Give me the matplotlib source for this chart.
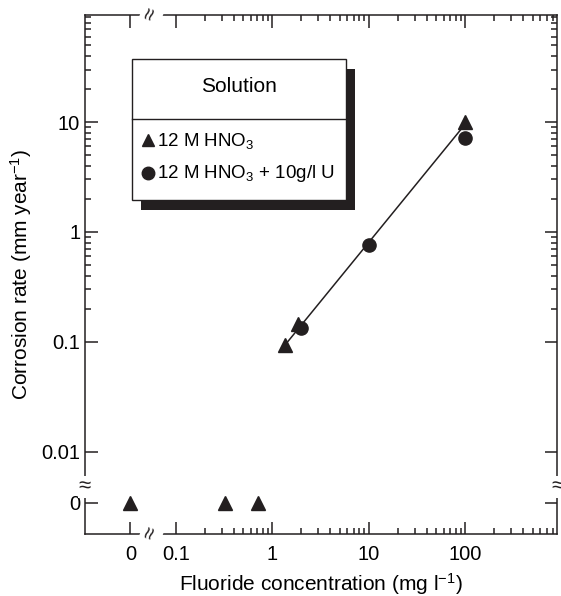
import numpy as np
import matplotlib
matplotlib.use("Agg")
import matplotlib.pyplot as plt
from matplotlib.patches import Rectangle

plt.rcParams["font.family"] = ["Liberation Sans", "DejaVu Sans"]
plt.rcParams["mathtext.fontset"] = "custom"
plt.rcParams["mathtext.rm"] = "Liberation Sans"
plt.rcParams["mathtext.it"] = "Liberation Sans:italic"
plt.rcParams["mathtext.default"] = "regular"

# data (zero values sit on the broken part of the axes)
hno3_x = [0, 0.32, 0.71, 1.35, 1.85, 100]
hno3_y = [0, 0, 0, 0.093, 0.145, 10]
u_x = [2.0, 10, 100]
u_y = [0.134, 0.76, 7.2]
fit_x = [1.35, 100]
fit_y = [0.093, 9.6]

xticks = [0, 0.1, 1, 10, 100]
xticklabels = ["0", "0.1", "1", "10", "100"]
yticks = [0, 0.01, 0.1, 1, 10]
yticklabels = ["0", "0.01", "0.1", "1", "10"]

X_ZERO = -1.47   # where x = 0 is drawn, in decades
Y_ZERO = -2.465  # where y = 0 is drawn, in decades


def make_scale(zero_pos):
    def fwd(v):
        v = np.asarray(v, dtype=float)
        safe = np.where(v > 0, v, 1.0)
        return np.where(v > 0, np.log10(safe), zero_pos)

    def inv(p):
        return 10.0 ** np.asarray(p, dtype=float)
    return fwd, inv


fig = plt.figure(figsize=(5.61, 5.96), dpi=100)
ax = fig.add_axes([0.1515, 0.104, 0.8415, 0.871])
ax.set_xscale("function", functions=make_scale(X_ZERO))
ax.set_yscale("function", functions=make_scale(Y_ZERO))

ax.plot(fit_x, fit_y, color="#231f20", lw=1.1, zorder=2)
ax.plot(hno3_x, hno3_y, ls="none", marker="^", ms=10, color="#231f20", zorder=3)
ax.plot(u_x, u_y, ls="none", marker="o", ms=9.5, color="#231f20", zorder=3)

ax.set_xticks(xticks)
ax.set_xticklabels(xticklabels)
ax.set_yticks(yticks)
ax.set_yticklabels(yticklabels)
xminor = [m * d for d in (0.1, 1, 10, 100) for m in range(2, 10)]
yminor = [m * d for d in (0.1, 1, 10) for m in range(2, 10)]
ax.set_xticks([v for v in xminor if v < 10 ** 2.95], minor=True)
ax.set_yticks([v for v in yminor if v < 10 ** 1.975], minor=True)

# limits after the ticks, since set_ticks widens the view to hold 0
ax.set_xlim(10 ** -1.94, 10 ** 2.95)
ax.set_ylim(10 ** -2.75, 10 ** 1.975)

ax.tick_params(which="both", direction="in", top=True, right=True,
               width=1.1, color="#231f20", labelsize=14.5)
ax.tick_params(axis="x", pad=8)
ax.tick_params(axis="y", pad=3.5)
ax.tick_params(which="major", length=9)
ax.tick_params(which="minor", length=4.5)
for s in ax.spines.values():
    s.set_linewidth(1.1)
    s.set_color("#231f20")

ax.set_xlabel("Fluoride concentration (mg l$^{-1}$)", fontsize=15, labelpad=5)
ax.set_ylabel("Corrosion rate (mm year$^{-1}$)", fontsize=15, labelpad=5)

# axis break marks
bx = ax.get_xaxis_transform()
by = ax.get_yaxis_transform()
for yy in (0, 1):
    ax.text(0.056, yy, "\u2248", transform=bx, rotation=70, ha="center", va="center",
            fontsize=16, color="#231f20", clip_on=False, zorder=5,
            bbox=dict(facecolor="white", edgecolor="none", pad=0.3))
for xx in (0, 1):
    ax.text(xx, 0.0048, "\u2248", transform=by, rotation=0, ha="center", va="center",
            fontsize=16, color="#231f20", clip_on=False, zorder=5,
            bbox=dict(facecolor="white", edgecolor="none", pad=0.3))

# legend box with drop shadow
t = ax.transAxes
x0, x1 = 0.0996, 0.553
y0, y1 = 0.6435, 0.915
ax.add_patch(Rectangle((x0 + 0.018, y0 - 0.02), x1 - x0, y1 - y0, transform=t,
                       facecolor="#231f20", edgecolor="none", zorder=6))
ax.add_patch(Rectangle((x0, y0), x1 - x0, y1 - y0, transform=t,
                       facecolor="white", edgecolor="#231f20", lw=1.0, zorder=7))
ax.plot([x0, x1], [0.80, 0.80], transform=t, color="#231f20", lw=1.0, zorder=8)
ax.text((x0 + x1) / 2, 0.862, "Solution", transform=t, ha="center", va="center",
        fontsize=15, zorder=8)
ax.plot([0.133], [0.759], transform=t, marker="^", ms=8.5, color="#231f20", zorder=8)
ax.plot([0.133], [0.696], transform=t, marker="o", ms=9, color="#231f20", zorder=8)
ax.text(0.152, 0.757, "12 M HNO$_3$", transform=t, ha="left", va="center",
        fontsize=13.5, zorder=8)
ax.text(0.152, 0.694, "12 M HNO$_3$ + 10g/l U", transform=t, ha="left", va="center",
        fontsize=13.5, zorder=8)

fig.savefig("out.png", dpi=100)
